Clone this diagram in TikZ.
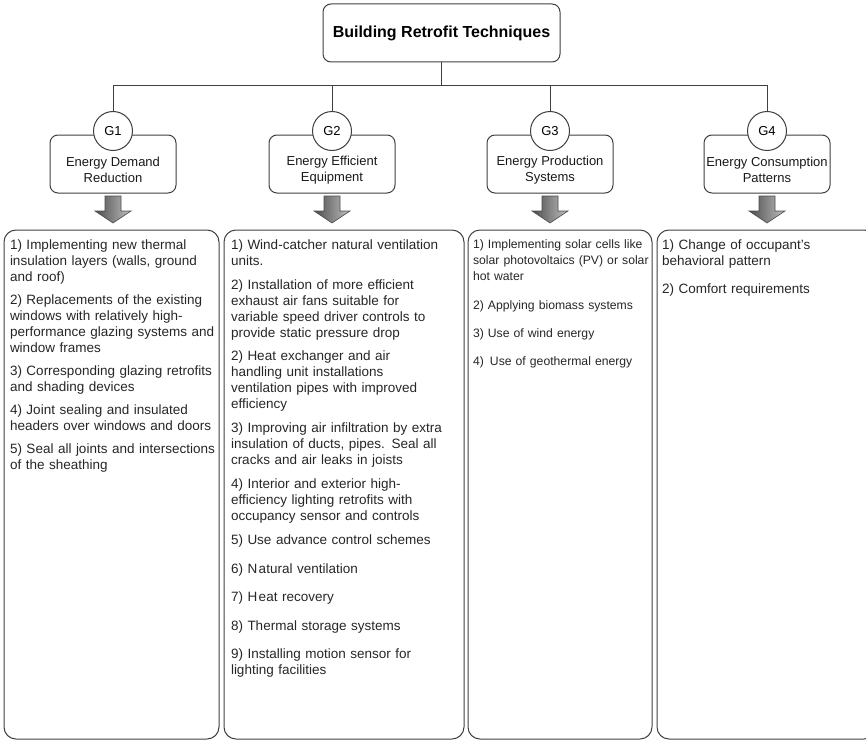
\documentclass[tikz,border=0pt]{standalone}
\usepackage{fontspec}
\setmainfont{Liberation Sans}
\usetikzlibrary{calc}
\begin{document}
\begin{tikzpicture}[x=1pt,y=-1pt,
  every node/.style={inner sep=0pt, outer sep=0pt},
  frame/.style={draw=black!75, line width=1pt, rounded corners=8pt},
  headbox/.style={frame, fill=white, minimum width=237pt, minimum height=58pt,
    font=\bfseries\fontsize{16}{19}\selectfont},
  groupbox/.style={frame, fill=white, minimum width=126pt, minimum height=58pt},
  grouptext/.style={align=center, font=\fontsize{13}{15.5}\selectfont, text=black!90},
  gcircle/.style={circle, draw=black!75, line width=1pt, fill=white,
    minimum size=39pt, font=\fontsize{13}{15}\selectfont},
  listbox/.style={frame, rounded corners=12pt, anchor=north west},
  entry/.style={anchor=base west, align=left, text width=240pt,
    font=\fontsize{13.5}{16.3}\selectfont, text=black!85},
  smallentry/.style={entry, font=\fontsize{12.2}{16.3}\selectfont},
  link/.style={draw=black!75, line width=1pt},
  bigarrow/.style={draw=black!70, line width=0.6pt, left color=black!70, right color=black!25},
  downarrow/.pic={\path[bigarrow] (-8,0) -- (8,0) -- (8,15) -- (18,15) -- (0,27)
    -- (-18,15) -- (-8,15) -- cycle;}
]
\useasboundingbox (0,0) rectangle (866,741);

% root
\node[headbox] (title) at (441.5,33) {Building Retrofit Techniques};

% group boxes, their labels and the G circles on top
\foreach \i/\x in {1/113,2/332,3/550,4/767}{
  \node[groupbox] (b\i) at (\x,164) {};
}
\node[grouptext] (t1) at (113,170) {Energy Demand\\Reduction};
\node[grouptext] (t2) at (332,170) {Energy Efficient\\Equipment};
\node[grouptext] (t3) at (550,170) {Energy Production\\Systems};
\node[grouptext] (t4) at (767,170) {Energy Consumption\\Patterns};
\foreach \i/\x in {1/113,2/332,3/550,4/767}{
  \node[gcircle] (g\i) at (\x,131) {G\i};
}

% tree connectors
\coordinate (bus) at (0,86);
\draw[link] (title.south) -- (title.south |- bus);
\draw[link] (g1.north) -- (g1.north |- bus) -- (g4.north |- bus) -- (g4.north);
\draw[link] (g2.north) -- (g2.north |- bus);
\draw[link] (g3.north) -- (g3.north |- bus);

% block arrows
\foreach \i in {1,...,4}{
  \pic at ($(b\i.south)+(0,3)$) {downarrow};
}

% list panels (the last one runs past the right margin)
\node[listbox, minimum width=215pt, minimum height=509pt] (l1) at (4,230) {};
\node[listbox, minimum width=240pt, minimum height=509pt] (l2) at (224,230) {};
\node[listbox, minimum width=184pt, minimum height=509pt] (l3) at (468,230) {};
\node[listbox, minimum width=219pt, minimum height=509pt] (l4) at (657,230) {};

% G1 list
\node[entry] (a1) at (10,249) {1) Implementing new thermal\\insulation layers (walls, ground\\and roof)};
\node[entry] (a2) at (10,304) {2) Replacements of the existing\\windows with relatively high-\\performance glazing systems and\\window frames};
\node[entry] (a3) at (10,375) {3) Corresponding glazing retrofits\\and shading devices};
\node[entry] (a4) at (10,414) {4) Joint sealing and insulated\\headers over windows and doors};
\node[entry] (a5) at (10,453) {5) Seal all joints and intersections\\of the sheathing};

% G2 list
\node[entry] (e1) at (231,249) {1) Wind-catcher natural ventilation\\units.};
\node[entry] (e2) at (231,289) {2) Installation of more efficient\\exhaust air fans suitable for\\variable speed driver controls to\\provide static pressure drop};
\node[entry] (e3) at (231,360) {2) Heat exchanger and air\\handling unit installations\\ventilation pipes with improved\\efficiency};
\node[entry] (e4) at (231,432) {3) Improving air infiltration by extra\\insulation of ducts, pipes. Seal all\\cracks and air leaks in joists};
\node[entry] (e5) at (231,488) {4) Interior and exterior high-\\efficiency lighting retrofits with\\occupancy sensor and controls};
\node[entry] (e6) at (231,544) {5) Use advance control schemes};
\node[entry] (e7) at (231,573) {6) N\kern1.5pt atural ventilation};
\node[entry] (e8) at (231,601) {7) H\kern1.5pt eat recovery};
\node[entry] (e9) at (231,630) {8) Thermal storage systems};
\node[entry] (e10) at (231,658) {9) Installing motion sensor for\\lighting facilities};

% G3 list
\node[smallentry] (p1) at (473,248) {1) Implementing solar cells like\\solar photovoltaics (PV) or solar\\hot water};
\node[smallentry] (p2) at (473,309) {2) Applying biomass systems};
\node[smallentry] (p3) at (473,337) {3) Use of wind energy};
\node[smallentry] (p4) at (473,365) {4)\enspace Use of geothermal energy};

% G4 list
\node[entry] (c1) at (662,249) {1) Change of occupant's\\behavioral pattern};
\node[entry] (c2) at (662,293) {2) Comfort requirements};
\end{tikzpicture}
\end{document}
